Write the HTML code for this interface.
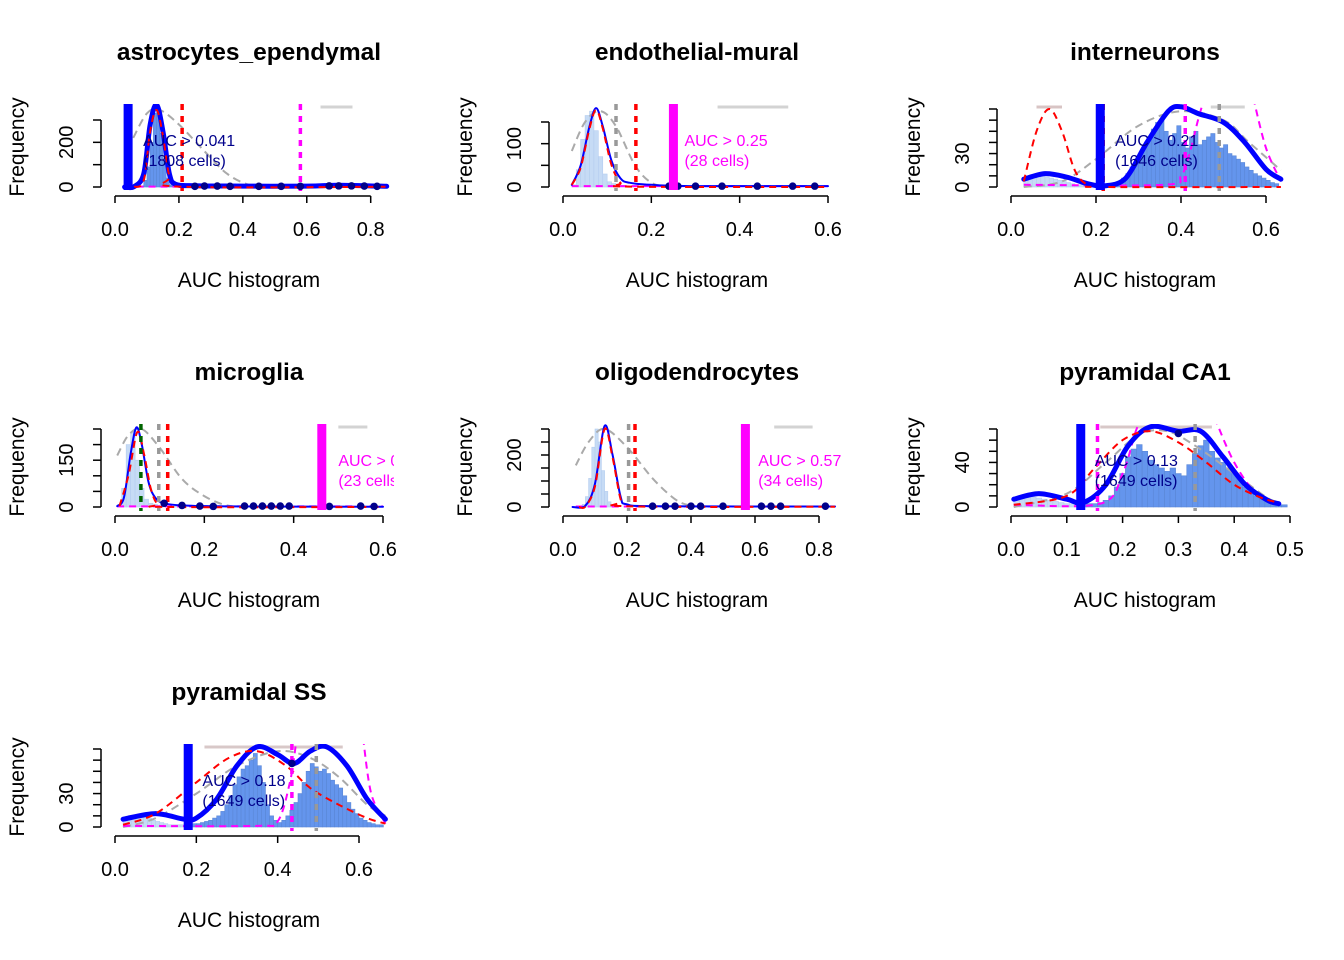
<!DOCTYPE html>
<html><head><meta charset="utf-8">
<style>
html,body{margin:0;padding:0;background:#fff;}
svg{display:block;font-family:"Liberation Sans",Arial,sans-serif;}
</style></head>
<body>
<svg id="chart" width="1344" height="960" viewBox="0 0 1344 960"></svg>
<script>
// ---------- DATA ----------
const panelTitles = ["astrocytes_ependymal","endothelial-mural","interneurons","microglia","oligodendrocytes","pyramidal CA1","pyramidal SS"];
const thresholds = [0.041,0.25,0.21,0.463,0.57,0.125,0.18];
const thresholdColors = ["#0000FF","#FF00FF","#0000FF","#FF00FF","#FF00FF","#0000FF","#0000FF"];
const aucLabels = ["AUC > 0.041","AUC > 0.25","AUC > 0.21","AUC > 0.46","AUC > 0.57","AUC > 0.13","AUC > 0.18"];
const cellLabels = ["(1808 cells)","(28 cells)","(1646 cells)","(23 cells)","(34 cells)","(1649 cells)","(1649 cells)"];
const labelX = [0.088,0.275,0.245,0.5,0.61,0.15,0.215];

const xTicks = [[0,0.2,0.4,0.6,0.8],[0,0.2,0.4,0.6],[0,0.2,0.4,0.6],[0,0.2,0.4,0.6],[0,0.2,0.4,0.6,0.8],[0,0.1,0.2,0.3,0.4,0.5],[0,0.2,0.4,0.6]];
const yTicks = [[0,100,200,300],[0,50,100,150],[0,10,20,30,40,50,60,70],[0,50,100,150,200,250],[0,50,100,150,200,250,300],[0,10,20,30,40,50,60,70],[0,10,20,30,40,50,60,70]];
const yLabels = [[0,200],[0,100],[0,30],[0,150],[0,200],[0,40],[0,30]];

// histograms: start, bin width, counts
const histStart = [0.08,0.02,0.03,0.005,0.05,0.005,0.02];
const histStep = [0.01,0.01,0.01,0.01,0.01,0.01,0.01];
const hist1 = [5,30,90,200,330,350,240,120,40,10];
const hist2 = [5,40,110,165,175,130,70,30,12,8,5,4,3,2];
const hist3 = [6,8,10,12,10,9,8,7,6,5,4,3,2,2,1,1,1,1,1,2,3,4,5,8,12,18,25,30,38,45,52,58,60,50,42,48,55,40,35,45,50,38,42,45,48,40,35,38,30,28,25,22,18,15,12,10,8,6,4,3];
const hist4 = [5,60,200,240,150,60,25,12,8,5,4,3,2,2];
const hist5 = [3,10,40,110,230,300,250,140,60,20,8,4];
const hist6 = [6,8,9,9,8,7,6,5,4,3,3,3,3,3,3,4,6,10,18,30,45,52,56,50,42,38,35,32,35,30,28,38,48,55,60,50,44,40,35,30,25,18,14,10,7,5,3,2,2];
const hist7 = [6,8,10,11,10,9,8,6,5,4,3,2,2,2,2,2,2,3,3,4,5,6,8,10,14,20,28,38,45,52,55,60,66,55,40,20,10,6,4,6,10,15,22,30,40,50,57,54,50,52,48,42,38,35,28,22,16,12,8,6,4,3,2,2];

// density curves as [x, frequency] pairs
const blue1 = [[0.03,0],[0.06,2],[0.09,60],[0.11,280],[0.13,368],[0.15,250],[0.17,60],[0.19,12],[0.25,6],[0.4,4],[0.6,4],[0.7,8],[0.85,3]];
const red1 = [[0.06,0],[0.09,30],[0.11,250],[0.13,345],[0.15,230],[0.17,50],[0.2,2],[0.85,1]];
const grey1 = [[0.057,220],[0.1,330],[0.14,345],[0.2,280],[0.28,160],[0.35,60],[0.42,10],[0.5,0]];
const mag1 = [[0.03,2],[0.85,2]];

const blue2 = [[0.02,5],[0.04,50],[0.06,140],[0.075,182],[0.09,140],[0.11,60],[0.13,20],[0.15,10],[0.2,5],[0.3,2],[0.6,2]];
const red2 = [[0.02,5],[0.04,45],[0.06,135],[0.075,178],[0.09,135],[0.11,50],[0.13,10],[0.15,1],[0.6,0]];
const grey2 = [[0.02,83],[0.05,150],[0.085,175],[0.12,140],[0.163,50],[0.2,10],[0.24,0]];
const mag2 = [[0.02,2],[0.6,2]];

const blue3 = [[0.03,7],[0.08,12],[0.13,9],[0.18,3],[0.22,1],[0.27,8],[0.32,40],[0.37,68],[0.4,72],[0.44,66],[0.5,58],[0.55,40],[0.6,16],[0.635,7]];
const red3 = [[0.03,5],[0.06,50],[0.09,70],[0.12,50],[0.15,15],[0.18,2],[0.22,0],[0.635,0]];
const grey3 = [[0.03,0],[0.12,5],[0.2,25],[0.3,55],[0.4,68],[0.5,60],[0.56,40],[0.635,15]];
const mag3 = [[0.03,2],[0.36,2],[0.4,10],[0.42,30],[0.44,60],[0.455,80]];
const mag3b = [[0.57,80],[0.6,35],[0.635,5]];

const blue4 = [[0.005,3],[0.02,30],[0.035,170],[0.048,255],[0.06,200],[0.075,80],[0.09,30],[0.11,12],[0.15,5],[0.25,2],[0.6,1]];
const red4 = [[0.01,3],[0.03,100],[0.05,240],[0.065,170],[0.08,60],[0.095,10],[0.12,0],[0.6,0]];
const grey4 = [[0.005,165],[0.03,230],[0.06,250],[0.1,190],[0.15,90],[0.2,35],[0.25,5],[0.3,0]];
const mag4 = [[0.005,2],[0.6,2]];

const blue5 = [[0.03,0],[0.07,5],[0.1,90],[0.13,312],[0.155,200],[0.18,40],[0.2,10],[0.3,3],[0.85,2]];
const red5 = [[0.05,0],[0.07,2],[0.1,80],[0.13,300],[0.155,190],[0.18,30],[0.2,3],[0.85,1]];
const grey5 = [[0.04,160],[0.08,250],[0.13,300],[0.2,230],[0.28,110],[0.35,30],[0.4,5],[0.45,0]];
const mag5 = [[0.04,2],[0.85,2]];

const blue6 = [[0.005,7],[0.05,12],[0.1,7],[0.13,4],[0.17,20],[0.21,55],[0.25,72],[0.3,68],[0.34,68],[0.38,45],[0.42,20],[0.46,6],[0.48,3]];
const red6 = [[0.005,2],[0.1,10],[0.15,35],[0.2,60],[0.25,68],[0.3,58],[0.35,40],[0.4,20],[0.45,8],[0.48,4]];
const grey6 = [[0.005,0],[0.1,12],[0.17,40],[0.23,65],[0.28,68],[0.33,55],[0.4,30],[0.46,8],[0.48,5]];
const mag6 = [[0.005,2],[0.16,3],[0.2,30],[0.225,70],[0.24,80]];
const mag6b = [[0.365,80],[0.4,40],[0.44,12],[0.48,3]];

const blue7 = [[0.02,7],[0.1,12],[0.17,7],[0.2,8],[0.25,25],[0.3,55],[0.35,72],[0.4,65],[0.44,57],[0.48,68],[0.52,72],[0.57,55],[0.62,25],[0.665,7]];
const red7 = [[0.02,2],[0.1,12],[0.2,40],[0.28,62],[0.35,68],[0.42,55],[0.48,35],[0.55,20],[0.62,8],[0.665,3]];
const grey7 = [[0.02,0],[0.1,8],[0.2,30],[0.3,55],[0.4,68],[0.48,62],[0.55,45],[0.62,20],[0.665,10]];
const mag7 = [[0.02,1],[0.35,1],[0.4,5],[0.43,40],[0.445,75]];
const mag7b = [[0.61,80],[0.63,30],[0.665,3]];

// vertical dotted markers [x, color]
const vDots1 = [[0.21,"#FF0000"],[0.58,"#FF00FF"]];
const vDots2 = [[0.12,"#999999"],[0.165,"#FF0000"]];
const vDots3 = [[0.217,"#FF0000"],[0.41,"#FF00FF"],[0.49,"#999999"]];
const vDots4 = [[0.058,"#006400"],[0.098,"#999999"],[0.118,"#FF0000"]];
const vDots5 = [[0.205,"#999999"],[0.225,"#FF0000"]];
const vDots6 = [[0.155,"#FF00FF"],[0.33,"#999999"]];
const vDots7 = [[0.435,"#FF00FF"],[0.495,"#999999"]];

// navy dots along curves [x, freq]
const navy1 = [[0.25,3],[0.28,4],[0.32,4],[0.36,3],[0.45,3],[0.52,3],[0.58,3],[0.67,5],[0.7,5],[0.74,5],[0.78,4],[0.82,3]];
const navy2 = [[0.24,2],[0.26,2],[0.3,2],[0.36,2],[0.44,2],[0.52,2],[0.57,2]];
const navy3 = [];
const navy4 = [[0.11,12],[0.15,5],[0.19,3],[0.22,2],[0.29,3],[0.31,3],[0.33,3],[0.35,3],[0.37,3],[0.39,3],[0.48,2],[0.55,3],[0.58,2]];
const navy5 = [[0.28,3],[0.32,3],[0.35,3],[0.4,3],[0.43,3],[0.5,3],[0.62,3],[0.65,3],[0.68,3],[0.82,3]];
const navy6 = [[0.3,66]];
const navy7 = [[0.435,57]];

// grey segments at top [x1, x2, color]
const segs1 = [[0.643,0.743,"#D3D3D3"]];
const segs2 = [[0.35,0.51,"#D3D3D3"]];
const segs3 = [[0.06,0.12,"#D8C4C4"],[0.47,0.55,"#D3D3D3"]];
const segs4 = [[0.5,0.565,"#D3D3D3"]];
const segs5 = [[0.66,0.78,"#D3D3D3"]];
const segs6 = [[0.16,0.36,"#D8C8C8"]];
const segs7 = [[0.22,0.56,"#D8C8C8"]];

// ---------- LAYOUT ----------
const hists=[hist1,hist2,hist3,hist4,hist5,hist6,hist7];
const blues=[blue1,blue2,blue3,blue4,blue5,blue6,blue7];
const reds=[red1,red2,red3,red4,red5,red6,red7];
const greys=[grey1,grey2,grey3,grey4,grey5,grey6,grey7];
const mags=[[mag1],[mag2],[mag3,mag3b],[mag4],[mag5],[mag6,mag6b],[mag7,mag7b]];
const vdots=[vDots1,vDots2,vDots3,vDots4,vDots5,vDots6,vDots7];
const navys=[navy1,navy2,navy3,navy4,navy5,navy6,navy7];
const segs=[segs1,segs2,segs3,segs4,segs5,segs6,segs7];
const thickBlue=[true,false,true,false,false,true,true];
const lastTickPx=[370.7,380,370,383,371,394,359];
const topTickPx=[120,122,109,109,109,109,109];

const NS="http://www.w3.org/2000/svg";
const svg=document.getElementById('chart');
function mk(tag,attrs,parent){const e=document.createElementNS(NS,tag);for(const k in attrs)e.setAttribute(k,attrs[k]);(parent||svg).appendChild(e);return e;}
function smooth(pts){
  if(pts.length<2)return "";
  let d="M"+pts[0][0].toFixed(1)+","+pts[0][1].toFixed(1);
  for(let i=0;i<pts.length-1;i++){
    const p0=pts[i-1]||pts[i],p1=pts[i],p2=pts[i+1],p3=pts[i+2]||p2;
    const c1=[p1[0]+(p2[0]-p0[0])/6,p1[1]+(p2[1]-p0[1])/6];
    const c2=[p2[0]-(p3[0]-p1[0])/6,p2[1]-(p3[1]-p1[1])/6];
    d+="C"+c1[0].toFixed(1)+","+c1[1].toFixed(1)+" "+c2[0].toFixed(1)+","+c2[1].toFixed(1)+" "+p2[0].toFixed(1)+","+p2[1].toFixed(1);
  }
  return d;
}

for(let p=0;p<7;p++){
  const ox=(p%3)*448, oy=Math.floor(p/3)*320;
  const g=mk('g',{transform:`translate(${ox},${oy})`});
  
  
  const xt=xTicks[p], yt=yTicks[p];
  const xmin=xt[0], xmax=xt[xt.length-1];
  const X=v=>115+(v-xmin)/(xmax-xmin)*(lastTickPx[p]-115);
  const ymaxT=yt[yt.length-1];
  const Y=v=>187-v/ymaxT*(187-topTickPx[p]);
  const cp=mk('clipPath',{id:'clip'+p},g);
  mk('rect',{x:105,y:104,width:289,height:87},cp);
  const plot=mk('g',{'clip-path':`url(#clip${p})`},g);
  
  
  const h=hists[p];
  const bw=X(histStep[p])-X(0);
  for(let i=0;i<h.length;i++){
    const x0=histStart[p]+i*histStep[p];
    const dark=x0>=thresholds[p];
    const r=mk('rect',{x:X(x0),y:Y(h[i]),width:Math.max(bw,0.5),height:Y(0)-Y(h[i]),fill:dark?"#6495ED":"#C6DBF5",stroke:dark?"#5A87D6":"#B5CDEF","stroke-width":0.6},plot);
    
    
  }
  for(const s of segs[p]){
    const l=mk('line',{x1:X(s[0]),x2:X(s[1]),y1:107,y2:107,stroke:s[2],'stroke-width':3},plot);
    
    
  }
  const toPx=arr=>arr.map(q=>[X(q[0]),Y(q[1])]);
  let e=mk('path',{d:smooth(toPx(greys[p])),fill:'none',stroke:'#AAAAAA','stroke-width':2,'stroke-dasharray':'8,5'},plot);
  
  
  for(const m of mags[p]){
    e=mk('path',{d:smooth(toPx(m)),fill:'none',stroke:'#FF00FF','stroke-width':2,'stroke-dasharray':'7,5'},plot);
    
    
  }
  e=mk('path',{d:smooth(toPx(blues[p])),fill:'none',stroke:'#0000FF','stroke-width':thickBlue[p]?5:2,'stroke-linejoin':'round','stroke-linecap':'round'},plot);
  
  
  e=mk('path',{d:smooth(toPx(reds[p])),fill:'none',stroke:'#FF0000','stroke-width':2,'stroke-dasharray':'7,5'},plot);
  
  
  for(const v of vdots[p]){
    e=mk('line',{x1:X(v[0]),x2:X(v[0]),y1:104,y2:Y(0)+4,stroke:v[1],'stroke-width':3.5,'stroke-dasharray':'6,6'},plot);
    
    
  }
  for(const d of navys[p]){
    e=mk('circle',{cx:X(d[0]),cy:Y(d[1]),r:3.8,fill:'#00008B'},plot);
    
    
  }
  const tc=thresholdColors[p];
  e=mk('rect',{x:X(thresholds[p])-4.5,y:104,width:9,height:Y(0)+3-104,fill:tc},plot);
  
  
  const lc=tc==="#0000FF"?"#00008B":"#FF00FF";
  e=mk('text',{x:X(labelX[p]),y:146,'font-size':16,fill:lc},plot);
  e.textContent=aucLabels[p];
  
  
  e=mk('text',{x:X(labelX[p]),y:166,'font-size':16,fill:lc},plot);
  e.textContent=cellLabels[p];
  
  
  e=mk('line',{x1:X(xmin),x2:X(xmax),y1:196,y2:196,stroke:'#000','stroke-width':1.5},g);
  
  
  for(const t of xt){
    mk('line',{x1:X(t),x2:X(t),y1:196,y2:203,stroke:'#000','stroke-width':1.5},g);
    e=mk('text',{x:X(t),y:236,'font-size':20,'text-anchor':'middle'},g);
    e.textContent=t.toFixed(1);
    
    
  }
  e=mk('line',{x1:101,x2:101,y1:Y(0),y2:Y(ymaxT),stroke:'#000','stroke-width':1.5},g);
  
  
  for(const t of yt){
    mk('line',{x1:93,x2:101,y1:Y(t),y2:Y(t),stroke:'#000','stroke-width':1.5},g);
  }
  for(const t of yLabels[p]){
    e=mk('text',{x:0,y:0,'font-size':20,'text-anchor':'middle',transform:`translate(73,${Y(t)}) rotate(-90)`},g);
    e.textContent=String(t);
    
    
  }
  e=mk('text',{x:249,y:60,'font-size':24.5,'font-weight':'bold','text-anchor':'middle'},g);
  e.textContent=panelTitles[p];
  
  
  e=mk('text',{x:249,y:287,'font-size':21,'text-anchor':'middle'},g);
  e.textContent="AUC histogram";
  
  
  e=mk('text',{x:0,y:0,'font-size':21,'text-anchor':'middle',transform:'translate(24,147) rotate(-90)'},g);
  e.textContent="Frequency";
  
  
}
</script>
</body></html>
